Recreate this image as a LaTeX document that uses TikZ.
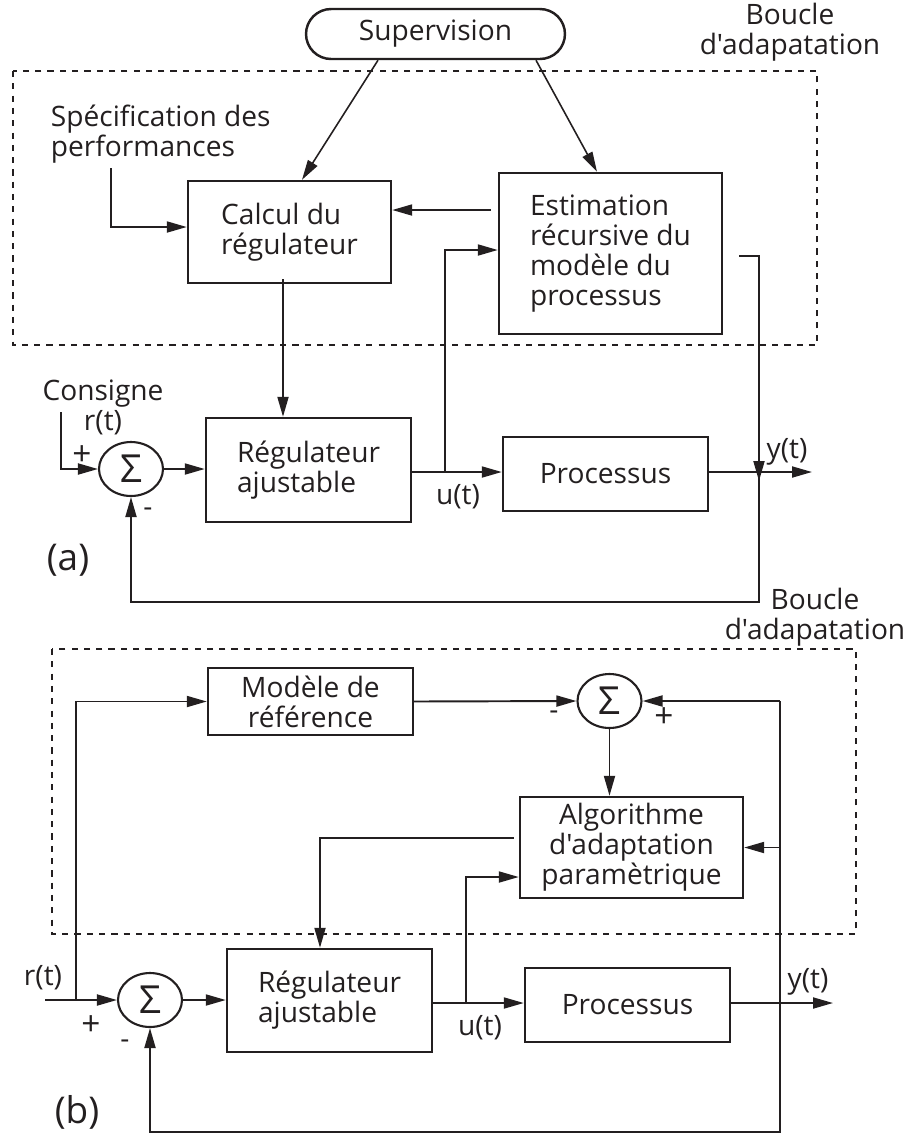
\documentclass[tikz,border=0pt]{standalone}
\usepackage{fontspec}
\setmainfont{Open Sans}[Ligatures=TeXOff]
\usetikzlibrary{arrows.meta,shapes.geometric,calc}
\definecolor{ink}{HTML}{231F20}

\begin{document}
\begin{tikzpicture}[x=0.02cm,y=-0.02cm,color=ink,line width=1.1pt,
    txt/.style={font=\fontsize{16}{17}\selectfont,inner sep=0pt,align=center},
    bloc/.style={draw,line width=1.4pt,txt,minimum width=4.1cm},
    somme/.style={draw,ellipse,line width=1.2pt,inner sep=0pt,minimum width=1.28cm,minimum height=1.08cm,font=\fontsize{22}{22}\selectfont},
    signe/.style={font=\fontsize{19}{19}\selectfont,inner sep=0pt},
    fl/.style={-{Triangle[length=0.4cm,width=0.22cm]}},
    boucle/.style={dash pattern=on 3.5pt off 3.5pt,line width=1.1pt},
    grand/.style={font=\fontsize{21}{23}\selectfont,inner sep=0pt}]
                \useasboundingbox (0,0) rectangle (913,1134);

                % (a)
                \draw[boucle] (13,71) rectangle (817,345);
                \node[bloc,rounded corners=0.5cm,minimum width=5.18cm,minimum height=1cm] (sup) at (435.5,34) {Supervision};
                \node[txt] (boua) at (790,32) {Boucle\\d'adapatation};
                \node[txt,align=left,anchor=west] (spec) at (50,134.5) {Spécification des\\performances};
                \node[bloc,align=left,minimum width=4.06cm,minimum height=2.04cm] (calc) at (289.5,232) {Calcul du\\régulateur};
                \node[bloc,align=left,minimum width=4.46cm,minimum height=3.22cm] (est) at (610.5,253.5) {Estimation\\récursive du\\modèle du\\processus};

                \node[txt] (cons) at (103,407) {Consigne\\r(t)};
                \node[somme] (sa) at (131,469) {Σ};
                \node[bloc,align=left,minimum height=2.08cm] (rega) at (308.5,470) {Régulateur\\ajustable};
                \node[bloc,minimum height=1.48cm] (proca) at (605.5,474) {Processus};
                \node[signe] (pla) at (82,456) {+};
                \node[txt] (mia) at (148,512) {-};
                \node[txt] (ulab) at (458,497) {u(t)};
                \node[txt] (ylab) at (787,452) {y(t)};
                \node[grand] (lba) at (68,560) {(a)};

                \coordinate (spin) at (111,168);
                \coordinate (ea) at (61,412);
                \coordinate (ua) at (445,472);
                \coordinate (ya) at (759,472);
                \coordinate (yaend) at (812,472);
                \coordinate (fba) at (759,602);

                \draw[fl] (spin) |- (calc.west |- 0,227);
                \draw[fl,line width=0.9pt] ($(sup.south)+(-57.5,0)$) -- ($(calc.north)+(12.5,0)$);
                \draw[fl,line width=0.9pt] ($(sup.south)+(100.5,0)$) -- ($(est.north)+(-13.5,0)$);
                \draw[fl,shorten <=0.14cm] (est.west |- 0,210) -- (calc.east |- 0,210);
                \draw[fl] ([xshift=-0.13cm,yshift=0.1cm]calc.south) -- ([xshift=-0.13cm]calc.south |- rega.north);
                \draw[fl] (ea) |- (sa.west);
                \draw[fl] (sa.east) -- (rega.west |- sa.east);
                \draw[fl] (rega.east |- ua) -- (proca.west |- ua);
                \draw[fl] (ua) |- (est.west |- 0,250);
                \draw[fl] (proca.east |- ya) -- (yaend);
                \draw[fl] ([xshift=0.32cm]est.east |- 0,256) -| ([yshift=-0.18cm]ya);
                \draw[fl] (ya) -- (fba) -| (sa.south);

                % (b)
                \node[txt] (boub) at (815,617) {Boucle\\d'adapatation};
                \draw[boucle] (52,649) rectangle (856,934);
                \node[bloc,minimum height=1.34cm] (modl) at (310.5,701.5) {Modèle de\\référence};
                \node[somme] (sb2) at (609.5,701) {Σ};
                \node[bloc,minimum width=4.46cm,minimum height=2.02cm] (algo) at (631.5,847.5) {Algorithme\\d'adaptation\\paramètrique};
                \node[somme] (sb) at (150,1000) {Σ};
                \node[bloc,align=left,minimum height=2.06cm] (regb) at (329.5,1000.5) {Régulateur\\ajustable};
                \node[bloc,minimum height=1.48cm] (procb) at (627.5,1005) {Processus};
                \node[txt] (rlab) at (43,978) {r(t)};
                \node[signe] (plb) at (91,1026) {+};
                \node[txt] (mib) at (125,1044) {-};
                \node[txt] (mib2) at (554,715) {-};
                \node[signe] (plb2) at (664,718) {+};
                \node[txt] (ulabb) at (480,1028) {u(t)};
                \node[txt] (ylabb) at (808,982) {y(t)};
                \node[grand] (lbb) at (77,1112) {(b)};

                \coordinate (rb) at (45,1000);
                \coordinate (rbt) at (76,1000);
                \coordinate (ub) at (466,1003);
                \coordinate (yb) at (780,1003);
                \coordinate (ybend) at (833,1003);
                \coordinate (fbh) at (780,701);
                \coordinate (fbb) at (780,1132);
                \coordinate (adj) at (320,838);

                \draw[fl] (rb) -- (sb.west);
                \draw[fl] (rbt) |- (modl.west);
                \draw[fl] (sb.east) -- (regb.west |- sb.east);
                \draw[fl] (regb.east |- ub) -- (procb.west |- ub);
                \draw[fl] (ub) |- (algo.west |- 0,877);
                \draw[fl] (procb.east |- yb) -- (ybend);
                \draw[fl] (modl.east) -- (sb2.west);
                \draw[fl] (sb2.south) -- (algo.north -| sb2.south);
                \draw[fl] (fbh) -- (sb2.east);
                \draw[fl] (fbh |- algo.east) -- (algo.east);
                \draw[fl] (fbh) -- (fbb) -| (sb.south);
                \draw[fl,shorten <=0.1cm] (algo.west |- adj) -- (adj) -- (adj |- regb.north);
            \end{tikzpicture}
\end{document}
